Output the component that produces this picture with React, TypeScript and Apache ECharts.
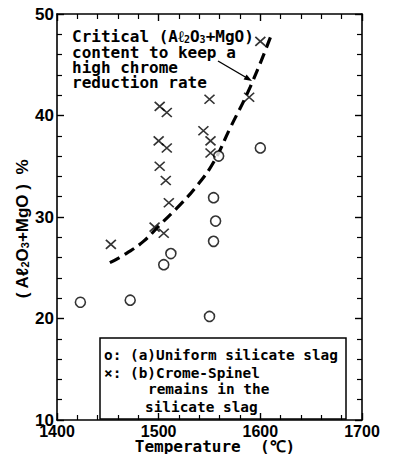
import React, { useEffect, useRef } from "react";
import * as echarts from "echarts";

const xTicks = [1400, 1500, 1600, 1700];
const yTicks = [10, 20, 30, 40, 50];
const uniformTemps = [1423, 1472, 1505, 1512, 1550, 1554, 1556, 1554, 1559, 1600];
const uniformValues = [21.6, 21.8, 25.3, 26.4, 20.2, 27.6, 29.6, 31.9, 36.0, 36.8];
const spinelTemps = [1453, 1496, 1505, 1510, 1507, 1501, 1500, 1508, 1501, 1508, 1544, 1550, 1551, 1551, 1589, 1600];
const spinelValues = [27.3, 29.0, 28.4, 31.4, 33.6, 35.0, 37.5, 36.8, 40.9, 40.3, 38.5, 41.6, 37.5, 36.3, 41.8, 47.3];
const criticalTemps = [1452, 1468, 1485, 1501, 1521, 1537, 1554, 1570, 1590, 1611];
const criticalValues = [25.5, 26.4, 27.6, 29.2, 31.2, 33.0, 35.4, 38.7, 42.8, 48.0];

const MONO = '"DejaVu Sans Mono", monospace';
const SANS = '"Liberation Sans", Arial, sans-serif';
const NARROW = '"Liberation Sans Narrow", "Liberation Sans", Arial, sans-serif';

export default function App() {
  const ref = useRef<HTMLDivElement>(null);
  useEffect(() => {
    if (!ref.current) return;
    const chart = echarts.init(ref.current, null, { renderer: "svg" });
    const axisCommon = {
      type: "value" as const,
      axisLine: { show: true, lineStyle: { color: "#000", width: 1.6 } },
      axisTick: { show: true, inside: true, length: 7, lineStyle: { color: "#000", width: 1.4 } },
      minorTick: { show: true, splitNumber: 5, length: 5, lineStyle: { color: "#000", width: 1.2 } },
      splitLine: { show: false },
      minorSplitLine: { show: false },
    };
    const labelStyle = {
      color: "#000", fontFamily: NARROW, fontWeight: "bold" as const, fontSize: 16,
      formatter: (v: number) => String(v),
    };
    const ends = (arr: number[]) => [arr[0], arr[arr.length - 1]];
    const [xmin, xmax] = ends(xTicks);
    const [ymin, ymax] = ends(yTicks);
    const sub = { fontSize: 10, verticalAlign: "bottom", lineHeight: 10 };
    const mono = (size: number) => ({ font: `bold ${size}px ${MONO}`, fill: "#000", textVerticalAlign: "middle", verticalAlign: "middle" });

    chart.setOption({
      animation: false,
      backgroundColor: "#fff",
      grid: { left: 57, right: 31, top: 14, bottom: 34 },
      xAxis: [
        { ...axisCommon, position: "bottom", min: xmin, max: xmax, interval: 100,
          axisLabel: { ...labelStyle, margin: 3 } },
        { ...axisCommon, position: "top", min: xmin, max: xmax, interval: 100, axisLabel: { show: false } },
      ],
      yAxis: [
        { ...axisCommon, position: "left", min: ymin, max: ymax, interval: 10,
          axisLabel: { ...labelStyle, fontSize: 17, margin: 3 } },
        { ...axisCommon, position: "right", min: ymin, max: ymax, interval: 10, axisLabel: { show: false } },
      ],
      series: [
        {
          name: "Critical",
          type: "line",
          smooth: true,
          symbol: "none",
          data: criticalTemps.map((t, i) => [t, criticalValues[i]]),
          lineStyle: { color: "#000", width: 3.2, type: [11, 6] },
          z: 1,
        },
        {
          name: "(a)Uniform silicate slag",
          type: "scatter",
          symbol: "circle",
          symbolSize: 10,
          data: uniformTemps.map((t, i) => [t, uniformValues[i]]),
          itemStyle: { color: "#fff", borderColor: "#000", borderWidth: 1.6 },
          z: 3,
        },
        {
          name: "(b)Crome-Spinel remains in the silicate slag",
          type: "scatter",
          symbol: "path://M0,0L10,10M10,0L0,10",
          symbolSize: [10, 9],
          data: spinelTemps.map((t, i) => [t, spinelValues[i]]),
          itemStyle: { color: "rgba(0,0,0,0)", borderColor: "#000", borderWidth: 1.6 },
          z: 3,
        },
      ],
      graphic: [
        {
          type: "text", x: 72, y: 36.5,
          style: {
            text: "Critical (Aℓ{s|2}O{s|3}+MgO)",
            ...mono(16),
            rich: { s: { ...sub, fontFamily: MONO, fontWeight: "bold", fill: "#000" } },
          },
        },
        { type: "text", x: 72, y: 52, style: { text: "content to keep a", ...mono(16) } },
        { type: "text", x: 72, y: 67, style: { text: "high chrome", ...mono(16) } },
        { type: "text", x: 72, y: 82, style: { text: "reduction rate", ...mono(16) } },
        { type: "line", shape: { x1: 218, y1: 61, x2: 247, y2: 78 }, style: { stroke: "#000", lineWidth: 1.4 } },
        { type: "polygon", shape: { points: [[252, 81], [243.6, 79.6], [246.6, 74.4]] }, style: { fill: "#000" } },
        { type: "rect", shape: { x: 100, y: 338, width: 246, height: 81 }, style: { fill: "rgba(0,0,0,0)", stroke: "#000", lineWidth: 1.5 } },
        { type: "text", x: 104, y: 355, style: { text: "o: (a)Uniform silicate slag", ...mono(14.4) } },
        { type: "text", x: 104, y: 373, style: { text: "×: (b)Crome-Spinel", ...mono(14.4) } },
        { type: "text", x: 148, y: 389, style: { text: "remains in the", ...mono(14.4) } },
        { type: "text", x: 145, y: 407, style: { text: "silicate slag", ...mono(14.4) } },
        { type: "text", x: 215, y: 446, style: { text: "Temperature  (℃)", ...mono(16), textAlign: "center", align: "center" } },
        {
          type: "text", x: 22, y: 229, rotation: Math.PI / 2,
          style: {
            text: "( Aℓ{s|2}O{s|3}+MgO )  %",
            font: `bold 17px ${SANS}`, fill: "#000",
            textAlign: "center", align: "center", textVerticalAlign: "middle", verticalAlign: "middle",
            rich: { s: { ...sub, fontSize: 11, fontFamily: SANS, fontWeight: "bold", fill: "#000" } },
          },
        },
      ],
    });
    return () => chart.dispose();
  }, []);
  return <div ref={ref} style={{ position: "fixed", left: 0, top: 0, width: 393, height: 454 }} />;
}
